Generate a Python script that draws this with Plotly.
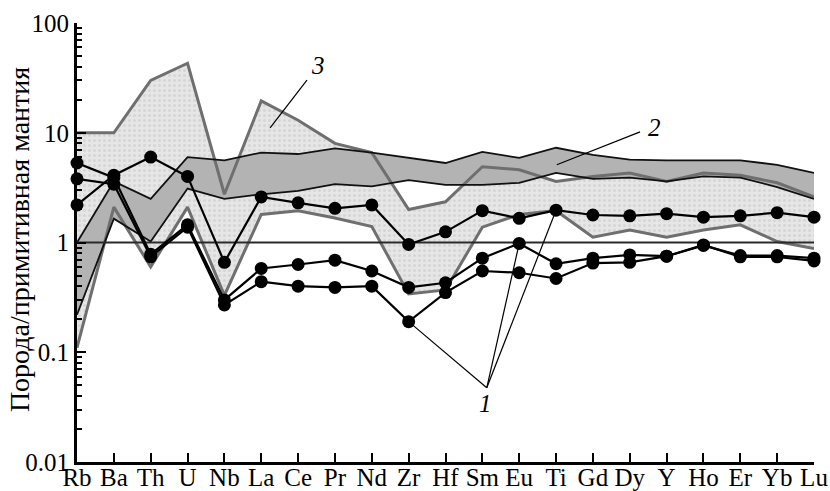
import numpy as np
import plotly.graph_objects as go

elements = ["Rb", "Ba", "Th", "U", "Nb", "La", "Ce", "Pr", "Nd", "Zr", "Hf",
            "Sm", "Eu", "Ti", "Gd", "Dy", "Y", "Ho", "Er", "Yb", "Lu"]

# field 3 (light stippled field)
field3_upper = [10, 10, 30, 43, 2.75, 19.5, 13, 8.0, 6.6, 2.0, 2.35,
                4.9, 4.6, 3.6, 4.0, 4.3, 3.6, 4.3, 4.1, 3.5, 2.6]
field3_lower = [0.11, 2.1, 0.6, 2.1, 0.33, 1.8, 1.95, 1.67, 1.4, 0.34, 0.37,
                1.38, 1.8, 1.95, 1.12, 1.3, 1.12, 1.3, 1.45, 1.02, 0.88]
# field 2 (dark band)
band2_upper = [1.0, 3.6, 2.5, 6.0, 5.6, 6.6, 6.4, 7.2, 6.6, 5.9, 5.3,
               6.7, 5.9, 7.3, 6.3, 5.7, 5.6, 5.6, 5.6, 5.1, 4.3]
band2_lower = [0.22, 1.65, 1.02, 3.1, 2.5, 2.75, 2.95, 3.4, 3.25, 3.7, 3.35,
               3.35, 3.5, 4.3, 3.8, 3.9, 3.6, 4.0, 3.9, 3.2, 2.5]
# samples (1)
sample_a = [2.2, 4.1, 6.0, 4.0, 0.66, 2.6, 2.3, 2.05, 2.2, 0.96, 1.25,
            1.95, 1.66, 1.97, 1.78, 1.75, 1.83, 1.7, 1.75, 1.87, 1.7]
sample_b = [5.3, 3.9, 0.78, 1.45, 0.30, 0.58, 0.63, 0.69, 0.55, 0.39, 0.43,
            0.72, 0.98, 0.64, 0.72, 0.77, 0.75, 0.94, 0.76, 0.76, 0.72]
sample_c = [3.8, 3.4, 0.74, 1.38, 0.27, 0.44, 0.40, 0.39, 0.40, 0.19, 0.35,
            0.55, 0.53, 0.47, 0.65, 0.66, 0.75, 0.95, 0.74, 0.74, 0.68]
reference_level = 1.0

y_tickvals = [0.01, 0.1, 1, 10, 100]
y_ticktext = ["0.01", "0.1", "1", "10", "100"]

FONT = "Liberation Serif"
fig = go.Figure()

poly_x = elements + elements[::-1]
# field 3 fill
fig.add_trace(go.Scatter(
    x=poly_x, y=field3_upper + field3_lower[::-1], fill="toself",
    mode="lines", line=dict(width=0), fillcolor="#e4e4e4",
    fillpattern=dict(shape=".", bgcolor="#e6e6e6", fgcolor="#c6c6c6",
                     size=5, solidity=0.3),
    hoverinfo="skip"))
# band 2 fill
fig.add_trace(go.Scatter(
    x=poly_x, y=band2_upper + band2_lower[::-1], fill="toself",
    mode="lines", line=dict(width=0), fillcolor="#b3b3b3", hoverinfo="skip"))
# field 3 borders
for arr in (field3_upper, field3_lower):
    fig.add_trace(go.Scatter(x=elements, y=arr, mode="lines",
                             line=dict(color="#6f6f6f", width=3),
                             hoverinfo="skip"))
# band 2 borders
for arr in (band2_upper, band2_lower):
    fig.add_trace(go.Scatter(x=elements, y=arr, mode="lines",
                             line=dict(color="#111111", width=1.8),
                             hoverinfo="skip"))
# reference line at 1
fig.add_trace(go.Scatter(x=[elements[0], elements[-1]],
                         y=[reference_level, reference_level], mode="lines",
                         line=dict(color="#2a2a2a", width=2), hoverinfo="skip"))
# samples
for arr in (sample_c, sample_b, sample_a):
    fig.add_trace(go.Scatter(x=elements, y=arr, mode="lines+markers",
                             line=dict(color="black", width=2.2),
                             marker=dict(color="black", size=13),
                             cliponaxis=False, hoverinfo="skip"))

n = len(elements) - 1


def to_paper(idx, val):
    return idx / n, (np.log10(val) + 2) / 4


shapes = []
# leader for "3"
shapes.append(dict(type="line", xref="paper", yref="paper",
                   x0=0.312, y0=0.870, x1=0.262, y1=0.761,
                   line=dict(color="black", width=1.2)))
# leader for "2"
shapes.append(dict(type="line", xref="paper", yref="paper",
                   x0=0.764, y0=0.752, x1=0.651, y1=0.677,
                   line=dict(color="black", width=1.2)))
# leaders for "1"
anchor = (0.556, 0.169)
for idx, arr in ((9, sample_c), (12, sample_b), (13, sample_a)):
    px, py = to_paper(idx, arr[idx])
    shapes.append(dict(type="line", xref="paper", yref="paper",
                       x0=anchor[0], y0=anchor[1], x1=px, y1=py,
                       line=dict(color="black", width=1.2)))

annotations = [
    dict(text="<i>3</i>", x=0.327, y=0.904, xref="paper", yref="paper",
         showarrow=False, font=dict(family=FONT, size=25, color="black"),
         xanchor="center", yanchor="middle"),
    dict(text="<i>2</i>", x=0.784, y=0.761, xref="paper", yref="paper",
         showarrow=False, font=dict(family=FONT, size=25, color="black"),
         xanchor="center", yanchor="middle"),
    dict(text="<i>1</i>", x=0.554, y=0.134, xref="paper", yref="paper",
         showarrow=False, font=dict(family=FONT, size=25, color="black"),
         xanchor="center", yanchor="middle"),
    dict(text="Порода/примитивная мантия", x=-0.077, y=0.506,
         xref="paper", yref="paper", showarrow=False, textangle=-90,
         font=dict(family=FONT, size=28, color="black"),
         xanchor="center", yanchor="middle"),
]

fig.update_layout(
    width=830, height=491,
    margin=dict(l=77, r=16, t=23, b=29, autoexpand=False),
    paper_bgcolor="white", plot_bgcolor="white",
    showlegend=False,
    font=dict(family=FONT, size=24, color="black"),
    shapes=shapes, annotations=annotations,
    xaxis=dict(
        type="category", range=[0, n], showgrid=False, zeroline=False,
        automargin=False,
        showline=True, linecolor="black", linewidth=3,
        ticks="inside", ticklen=9, tickwidth=2, tickcolor="black",
        ticklabelstandoff=-9,
        tickfont=dict(family=FONT, size=25, color="black"),
    ),
    yaxis=dict(
        type="log", range=[-2, 2], showgrid=False, zeroline=False,
        automargin=False,
        showline=True, linecolor="black", linewidth=3,
        tickvals=y_tickvals, ticktext=y_ticktext,
        ticks="inside", ticklen=9, tickwidth=2, tickcolor="black",
        tickfont=dict(family=FONT, size=25, color="black"),
        minor=dict(ticks="inside", ticklen=5, tickwidth=2, tickcolor="black",
                   dtick="D1", showgrid=False),
    ),
)

fig.write_html("out.html",
               config={"displayModeBar": False},
               post_script="document.body.style.margin='0';"
                           "document.body.style.overflow='hidden';")
